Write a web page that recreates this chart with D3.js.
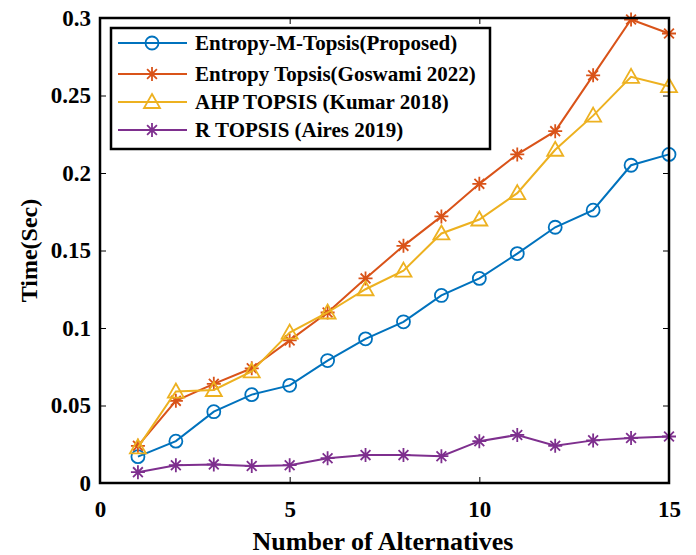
<!DOCTYPE html>
<html>
<head>
<meta charset="utf-8">
<script src="https://cdn.jsdelivr.net/npm/d3@7"></script>
<style>
  body { margin: 0; background: #fff; }
  text { font-family: "Liberation Serif", "Times New Roman", serif; font-weight: bold; }
</style>
</head>
<body>
<div id="chart"></div>
<script>
// data
const alternatives = [1, 2, 3, 4, 5, 6, 7, 8, 9, 10, 11, 12, 13, 14, 15];
const entropyM = [0.017, 0.027, 0.046, 0.057, 0.063, 0.079, 0.093, 0.104, 0.121, 0.132, 0.148, 0.165, 0.176, 0.205, 0.212];
const entropyTopsis = [0.024, 0.053, 0.064, 0.074, 0.092, 0.110, 0.132, 0.153, 0.172, 0.193, 0.212, 0.227, 0.263, 0.299, 0.290];
const ahpTopsis = [0.023, 0.059, 0.060, 0.072, 0.097, 0.110, 0.125, 0.137, 0.161, 0.170, 0.187, 0.215, 0.237, 0.262, 0.256];
const rTopsis = [0.007, 0.0115, 0.012, 0.011, 0.0115, 0.016, 0.018, 0.018, 0.0173, 0.027, 0.031, 0.024, 0.0275, 0.029, 0.030];
const seriesNames = ["Entropy-M-Topsis(Proposed)", "Entropy Topsis(Goswami 2022)", "AHP TOPSIS (Kumar 2018)", "R TOPSIS (Aires 2019)"];
const xTicks = [0, 5, 10, 15];
const yTicks = [0, 0.05, 0.1, 0.15, 0.2, 0.25, 0.3];

const width = 696, height = 555;
const margin = {top: 18, right: 27, bottom: 72, left: 100};

const series = [
  {name: seriesNames[0], values: entropyM, color: "#0072BD", marker: "circle"},
  {name: seriesNames[1], values: entropyTopsis, color: "#D95319", marker: "asterisk"},
  {name: seriesNames[2], values: ahpTopsis, color: "#EDB120", marker: "triangle"},
  {name: seriesNames[3], values: rTopsis, color: "#7E2F8E", marker: "asterisk"}
];

const svg = d3.select("#chart").append("svg")
    .attr("width", width)
    .attr("height", height);

const x = d3.scaleLinear().domain([0, 15]).range([margin.left, width - margin.right]);
const y = d3.scaleLinear().domain([0, 0.3]).range([height - margin.bottom, margin.top]);

function drawMarker(g, type, color) {
  if (type === "circle") {
    g.append("circle").attr("r", 6.5).attr("fill", "none")
      .attr("stroke", color).attr("stroke-width", 1.8);
  } else if (type === "triangle") {
    g.append("path").attr("d", "M0,-8L8,6L-8,6Z").attr("fill", "none")
      .attr("stroke", color).attr("stroke-width", 1.8);
  } else {
    const s = 7;
    g.append("path")
      .attr("d", `M${-s},0L${s},0M0,${-s}L0,${s}M${-s*0.7},${-s*0.7}L${s*0.7},${s*0.7}M${-s*0.7},${s*0.7}L${s*0.7},${-s*0.7}`)
      .attr("stroke", color).attr("stroke-width", 1.8);
  }
}

const line = d3.line()
    .x((d, i) => x(alternatives[i]))
    .y(d => y(d));

// plot lines + markers
series.forEach(s => {
  svg.append("path")
      .datum(s.values)
      .attr("fill", "none")
      .attr("stroke", s.color)
      .attr("stroke-width", 2)
      .attr("d", line);
  s.values.forEach((v, i) => {
    const g = svg.append("g").attr("transform", `translate(${x(alternatives[i])},${y(v)})`);
    drawMarker(g, s.marker, s.color);
  });
});

// axes (ticks pointing inward, mirrored on top/right)
const axisStyle = g => {
  g.select(".domain").remove();
  g.selectAll(".tick line").attr("stroke", "#000").attr("stroke-width", 1);
};

svg.append("g")
    .attr("transform", `translate(0,${y(0)})`)
    .call(d3.axisBottom(x).tickValues(xTicks).tickSizeInner(-6).tickPadding(18).tickFormat(d3.format("d")))
    .call(axisStyle)
    .selectAll("text").attr("font-size", 23).attr("fill", "#000");

svg.append("g")
    .attr("transform", `translate(0,${y(0.3)})`)
    .call(d3.axisTop(x).tickValues(xTicks).tickSizeInner(-6).tickFormat(""))
    .call(axisStyle);

svg.append("g")
    .attr("transform", `translate(${x(0)},0)`)
    .call(d3.axisLeft(y).tickValues(yTicks).tickSizeInner(-6).tickPadding(9).tickFormat(d => d === 0 ? "0" : String(+d.toFixed(2))))
    .call(axisStyle)
    .selectAll("text").attr("font-size", 23).attr("fill", "#000");

svg.append("g")
    .attr("transform", `translate(${x(15)},0)`)
    .call(d3.axisRight(y).tickValues(yTicks).tickSizeInner(-6).tickFormat(""))
    .call(axisStyle);

// frame
svg.append("rect")
    .attr("x", x(0)).attr("y", y(0.3))
    .attr("width", x(15) - x(0)).attr("height", y(0) - y(0.3))
    .attr("fill", "none").attr("stroke", "#000").attr("stroke-width", 2.5);

// axis titles
svg.append("text")
    .attr("x", 383).attr("y", 550)
    .attr("text-anchor", "middle").attr("font-size", 26)
    .text("Number of Alternatives");

svg.append("text")
    .attr("transform", `translate(37,${(y(0) + y(0.3)) / 2}) rotate(-90)`)
    .attr("text-anchor", "middle").attr("font-size", 24)
    .text("Time(Sec)");

// legend
const legend = svg.append("g").attr("transform", "translate(111,28)");
legend.append("rect")
    .attr("width", 379).attr("height", 121)
    .attr("fill", "#fff").attr("stroke", "#000").attr("stroke-width", 2.5);

const rowY = [15, 46, 74, 102];
series.forEach((s, i) => {
  const row = legend.append("g").attr("transform", `translate(0,${rowY[i]})`);
  row.append("line").attr("x1", 7).attr("x2", 76).attr("y1", 0).attr("y2", 0)
      .attr("stroke", s.color).attr("stroke-width", 2);
  drawMarker(row.append("g").attr("transform", "translate(41,0)"), s.marker, s.color);
  row.append("text").attr("x", 84).attr("y", 7).attr("font-size", 21)
      .text(s.name);
});
</script>
</body>
</html>
